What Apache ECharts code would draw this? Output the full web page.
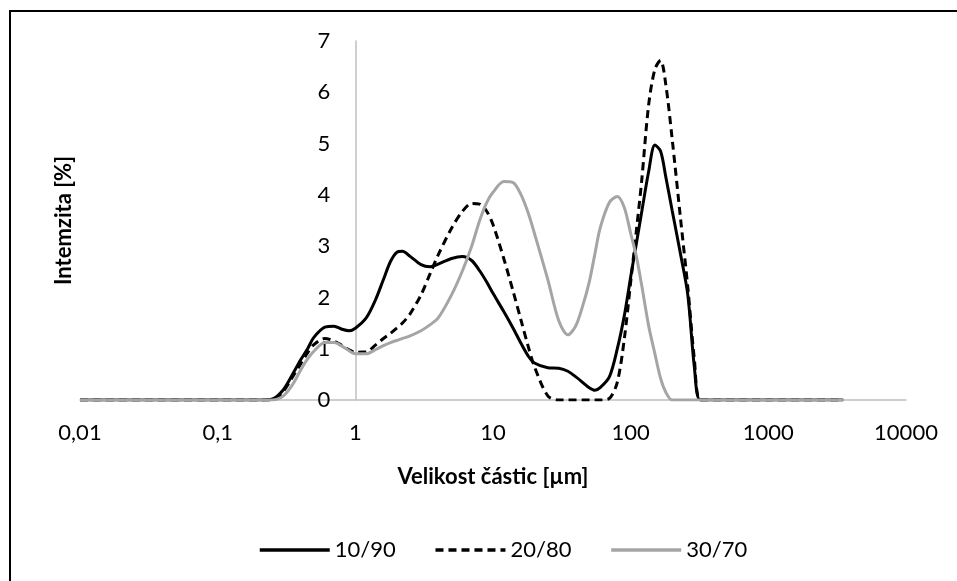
<!DOCTYPE html>
<html>
<head>
<meta charset="utf-8">
<script src="https://cdn.jsdelivr.net/npm/echarts@6/dist/echarts.min.js"></script>
<style>
  html, body { margin: 0; padding: 0; background: #fff; }
  #chart { width: 957px; height: 581px; }
</style>
</head>
<body>
<div id="chart"></div>
<script>
// Particle size classes [µm]
const sizes = [0.01, 0.2, 0.25, 0.3, 0.35, 0.4, 0.45, 0.5, 0.6, 0.7, 0.8, 0.9, 1,
  1.2, 1.4, 1.6, 1.8, 2, 2.2, 2.5, 3, 3.5, 4, 5, 6, 7, 8, 9, 10,
  12, 14, 16, 18, 20, 25, 30, 35, 40, 45, 50, 55, 60, 70, 80, 90, 100,
  110, 120, 135, 150, 165, 180, 200, 230, 260, 290, 320, 400, 1000, 3500];

// Intensity [%] for each mixture
const mix10_90 = [0, 0, 0.02, 0.2, 0.5, 0.78, 1.0, 1.22, 1.42, 1.44, 1.38, 1.35, 1.4,
  1.6, 1.95, 2.35, 2.7, 2.88, 2.9, 2.8, 2.64, 2.6, 2.65, 2.76, 2.8, 2.72, 2.52, 2.3, 2.08,
  1.72, 1.4, 1.1, 0.86, 0.72, 0.63, 0.62, 0.56, 0.45, 0.34, 0.24, 0.19, 0.24, 0.45, 1.0, 1.65, 2.4,
  3.05, 3.65, 4.45, 4.97, 4.85, 4.35, 3.7, 2.85, 2.05, 0.65, 0, 0, 0, 0];

const mix20_80 = [0, 0, 0, 0.17, 0.45, 0.7, 0.92, 1.08, 1.2, 1.15, 1.06, 0.98, 0.93,
  0.94, 1.07, 1.2, 1.3, 1.4, 1.5, 1.68, 2.05, 2.47, 2.83, 3.35, 3.68, 3.83, 3.82, 3.68, 3.42,
  2.75, 2.12, 1.55, 1.05, 0.65, 0.08, 0, 0, 0, 0, 0, 0, 0, 0.03, 0.35, 1.2, 2.3,
  3.3, 4.25, 5.75, 6.45, 6.62, 6.15, 5.1, 3.55, 2.2, 0.8, 0, 0, 0, 0];

const mix30_70 = [0, 0, 0, 0.08, 0.3, 0.58, 0.8, 0.95, 1.12, 1.12, 1.05, 0.96, 0.9,
  0.9, 0.98, 1.06, 1.12, 1.16, 1.2, 1.25, 1.35, 1.47, 1.6, 2.05, 2.52, 3.0, 3.5, 3.85, 4.05,
  4.26, 4.24, 4.0, 3.65, 3.25, 2.35, 1.55, 1.27, 1.45, 1.85, 2.3, 2.85, 3.35, 3.85, 3.97, 3.75, 3.25,
  2.8, 2.25, 1.45, 0.9, 0.42, 0.15, 0, 0, 0, 0, 0, 0, 0, 0];

const seriesNames = ['10/90', '20/80', '30/70'];
const xTickLabels = ['0,01', '0,1', '1', '10', '100', '1000', '10000'];
const yTickLabels = ['0', '1', '2', '3', '4', '5', '6', '7'];

const FONT = 'Lato, "Open Sans", sans-serif';
const FONT_SIZE = 22;
const pairs = vals => sizes.map((s, i) => [s, vals[i]]);

const gridLeft = 80, gridRight = 51;
const plotWidth = 957 - gridLeft - gridRight;
// vertical axis crosses the horizontal one at 1 µm (2 decades from 0.01)
const yAxisShift = -plotWidth * 2 / 6;

const chart = echarts.init(document.getElementById('chart'), null, { renderer: 'canvas' });

chart.setOption({
  animation: false,
  backgroundColor: '#ffffff',
  graphic: [{
    type: 'rect',
    silent: true,
    shape: { x: 10, y: 11, width: 1200, height: 800 },
    style: { fill: 'none', stroke: '#000', lineWidth: 2 }
  }],
  grid: { left: gridLeft, right: gridRight, top: 41, bottom: 181 },
  legend: {
    left: 253,
    top: 534,
    itemWidth: 70,
    itemHeight: 14,
    itemGap: 38,
    itemStyle: { opacity: 0 },
    lineStyle: { width: 3.5 },
    textStyle: { fontFamily: FONT, fontSize: FONT_SIZE, color: '#000' },
    data: seriesNames
  },
  xAxis: {
    type: 'log',
    logBase: 10,
    min: 0.01,
    max: 10000,
    axisLine: { onZero: false, lineStyle: { color: '#bfbfbf', width: 1.5 } },
    axisTick: { show: false },
    splitLine: { show: false },
    axisLabel: {
      margin: 22,
      fontFamily: FONT,
      fontSize: FONT_SIZE,
      color: '#000',
      formatter: v => xTickLabels[Math.round(Math.log10(v)) + 2]
    },
    name: 'Velikost částic [µm]',
    nameLocation: 'middle',
    nameGap: 66,
    nameTextStyle: { fontFamily: FONT, fontSize: FONT_SIZE, fontWeight: 'bold', color: '#000' }
  },
  yAxis: {
    type: 'value',
    min: 0,
    max: 7,
    interval: 1,
    offset: yAxisShift,
    axisLine: { show: true, lineStyle: { color: '#bfbfbf', width: 1.5 } },
    axisTick: { show: false },
    splitLine: { show: false },
    axisLabel: {
      margin: 25,
      fontFamily: FONT,
      fontSize: FONT_SIZE,
      color: '#000',
      formatter: v => yTickLabels[Math.round(v)]
    },
    name: 'Intemzita [%]',
    nameLocation: 'middle',
    nameRotate: 90,
    nameGap: 280,
    nameTextStyle: { fontFamily: FONT, fontSize: FONT_SIZE, fontWeight: 'bold', color: '#000' }
  },
  series: [
    {
      name: seriesNames[0],
      type: 'line',
      data: pairs(mix10_90),
      symbol: 'none',
      smooth: 0.3,
      lineStyle: { color: '#000000', width: 3 },
      itemStyle: { color: '#000000' }
    },
    {
      name: seriesNames[1],
      type: 'line',
      data: pairs(mix20_80),
      symbol: 'none',
      smooth: 0.3,
      lineStyle: { color: '#000000', width: 3, type: [8, 5] },
      itemStyle: { color: '#000000' }
    },
    {
      name: seriesNames[2],
      type: 'line',
      data: pairs(mix30_70),
      symbol: 'none',
      smooth: 0.3,
      lineStyle: { color: '#a5a5a5', width: 3 },
      itemStyle: { color: '#a5a5a5' }
    }
  ]
});
</script>
</body>
</html>
